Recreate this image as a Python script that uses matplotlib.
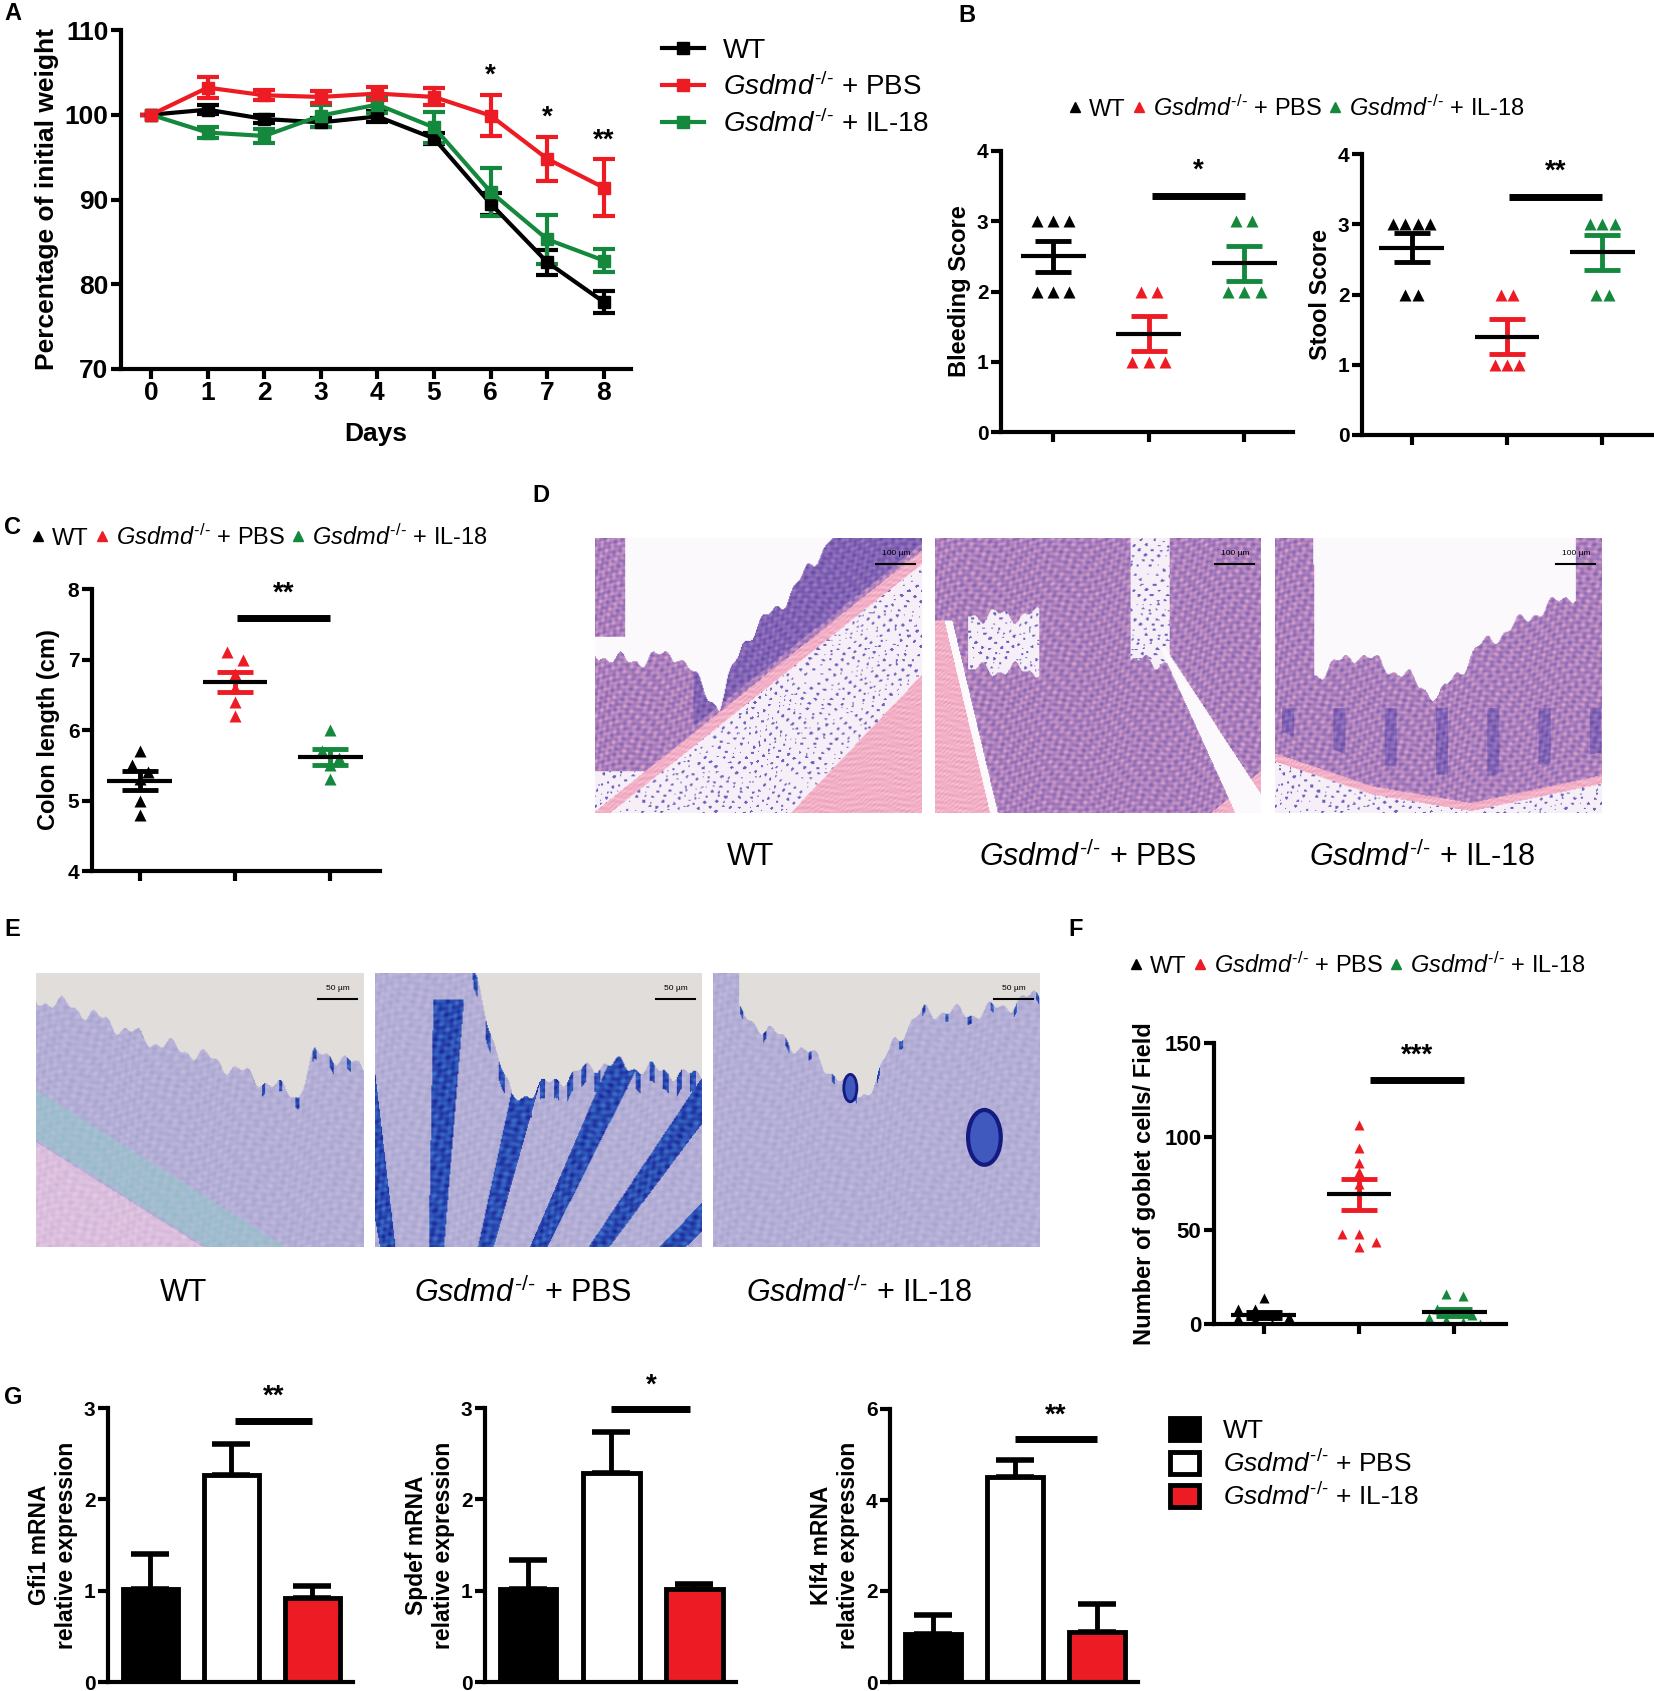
import numpy as np
import matplotlib
matplotlib.use('Agg')
import matplotlib.pyplot as plt
from matplotlib.lines import Line2D
from matplotlib.patches import Patch, Ellipse

plt.rcParams['font.family'] = ['Liberation Sans', 'DejaVu Sans']
plt.rcParams['mathtext.fontset'] = 'custom'
plt.rcParams['mathtext.rm'] = 'Liberation Sans'
plt.rcParams['mathtext.it'] = 'Liberation Sans:italic'
plt.rcParams['mathtext.bf'] = 'Liberation Sans:bold'

RED = '#ed1c24'
GREEN = '#14893d'
BLACK = '#000000'

# ---- data ----
days = [0, 1, 2, 3, 4, 5, 6, 7, 8]
wt_weight = [100, 100.6, 99.5, 99.1, 99.8, 97.2, 89.5, 82.6, 77.9]
wt_weight_err = [0, 0.5, 0.5, 0.5, 0.6, 0.6, 1.3, 1.5, 1.3]
pbs_weight = [100, 103.2, 102.3, 102.1, 102.5, 102.1, 99.9, 94.8, 91.4]
pbs_weight_err = [0, 1.2, 0.6, 0.7, 0.8, 1.0, 2.4, 2.6, 3.4]
il18_weight = [100, 97.9, 97.5, 99.9, 101.2, 98.5, 90.9, 85.3, 82.8]
il18_weight_err = [0, 0.7, 0.8, 1.3, 1.0, 1.8, 2.8, 2.9, 1.4]
weight_stars = ['*', '*', '**']
weight_star_days = [6, 7, 8]
weight_star_y = [104.6, 99.7, 97.0]

bleed_wt = [3, 3, 3, 2, 2, 2]
bleed_pbs = [2, 2, 1, 1, 1]
bleed_il18 = [3, 3, 2, 2, 2]
stool_wt = [3, 3, 3, 3, 2, 2]
stool_pbs = [2, 2, 1, 1, 1]
stool_il18 = [3, 3, 3, 2, 2]

colon_wt = [5.7, 5.5, 5.4, 5.3, 5.0, 4.8]
colon_pbs = [7.1, 7.0, 6.8, 6.6, 6.4, 6.2]
colon_il18 = [6.0, 5.7, 5.6, 5.5, 5.3]

goblet_wt = [14, 8, 8, 5, 4, 3, 2, 0, 0]
goblet_pbs = [106, 94, 86, 81, 75, 48, 48, 44, 41]
goblet_il18 = [16, 15, 8, 6, 5, 3, 2, 1, 0]

gfi1 = [1.02, 2.27, 0.92]
gfi1_err = [0.38, 0.34, 0.13]
spdef = [1.02, 2.29, 1.02]
spdef_err = [0.32, 0.45, 0.05]
klf4 = [1.05, 4.5, 1.1]
klf4_err = [0.42, 0.38, 0.62]

group_names = ['WT', '$\\mathit{Gsdmd}^{\u2010/\u2010}$ + PBS', '$\\mathit{Gsdmd}^{\u2010/\u2010}$ + IL-18']
group_colors = [BLACK, RED, GREEN]

W, H = 1654, 1691
fig = plt.figure(figsize=(W / 100, H / 100), dpi=100)


def ax_at(x0, y0, x1, y1):
    return fig.add_axes([x0 / W, 1 - y1 / H, (x1 - x0) / W, (y1 - y0) / H])


def style(ax, size=15):
    for s in ['top', 'right']:
        ax.spines[s].set_visible(False)
    for s in ['left', 'bottom']:
        ax.spines[s].set_linewidth(3)
    ax.tick_params(width=3, length=7, labelsize=size, pad=2)
    for lab in ax.get_xticklabels() + ax.get_yticklabels():
        lab.set_fontweight('bold')


def swarm(vals, tol, step):
    vals = np.asarray(vals, dtype=float)
    offs = np.zeros(len(vals))
    groups = []
    for i in np.argsort(-vals, kind='stable'):
        if groups and abs(vals[groups[-1][0]] - vals[i]) < tol:
            groups[-1].append(i)
        else:
            groups.append([i])
    for g in groups:
        for k, i in enumerate(g):
            offs[i] = (k - (len(g) - 1) / 2) * step
    return offs


def dot_plot(ax, data, tol, step, ms=8.5):
    for i, (vals, c) in enumerate(zip(data, group_colors)):
        vals = np.asarray(vals, dtype=float)
        ax.plot(i + swarm(vals, tol, step), vals, '^', color=c, ms=ms, mec='none', zorder=2)
        m = vals.mean()
        s = vals.std(ddof=1) / np.sqrt(len(vals))
        ax.errorbar(i, m, yerr=s, color=c, elinewidth=3.5, capsize=13, capthick=3.5, zorder=3)
        ax.plot([i - 0.34, i + 0.34], [m, m], color='k', lw=3, zorder=4, solid_capstyle='butt')
    ax.set_xticks([0, 1, 2])
    ax.set_xticklabels([])


def sig(ax, x0, x1, y, ystar, txt, size=20):
    ax.plot([x0, x1], [y, y], color='k', lw=5, solid_capstyle='butt', clip_on=False)
    ax.text((x0 + x1) / 2, ystar, txt, ha='center', va='center', fontsize=size, fontweight='bold')


def tri_legend(x, y, size=17):
    handles = [Line2D([], [], ls='none', marker='^', color=c, ms=7) for c in group_colors]
    fig.legend(handles, group_names, loc='center', bbox_to_anchor=(x / W, 1 - y / H),
               ncol=3, frameon=False, fontsize=size, handlelength=0.5, handletextpad=0.35,
               columnspacing=0.3, borderaxespad=0, borderpad=0)


def letter(x, y, s):
    fig.text(x / W, 1 - y / H, s, fontsize=17, fontweight='bold', ha='left', va='center')


# ---- A: body weight ----
axA = ax_at(121, 30, 631, 369)
for vals, err, c in [(wt_weight, wt_weight_err, BLACK), (il18_weight, il18_weight_err, GREEN),
                     (pbs_weight, pbs_weight_err, RED)]:
    axA.errorbar(days, vals, yerr=err, color=c, lw=3, marker='s', ms=8.5, capsize=8,
                 capthick=3, elinewidth=3)
for d, yy, s in zip(weight_star_days, weight_star_y, weight_stars):
    axA.text(d, yy, s, ha='center', va='center', fontsize=20, fontweight='bold')
axA.set_xlim(-0.53, 8.48)
axA.set_ylim(70, 110)
axA.set_yticks([70, 80, 90, 100, 110])
axA.set_xticks(days)
style(axA, 19)
axA.set_xlabel('Days', fontsize=19, fontweight='bold', labelpad=12)
axA.set_ylabel('Percentage of initial weight', fontsize=19, fontweight='bold', labelpad=4)
handlesA = [Line2D([], [], color=c, marker='s', lw=3, ms=8.5) for c in group_colors]
fig.legend(handlesA, group_names, loc='upper left', bbox_to_anchor=(662 / W, 1 - 38 / H),
           frameon=False, fontsize=20, handlelength=1.5, labelspacing=0.3,
           handletextpad=0.7, borderaxespad=0, borderpad=0)
letter(4, 14, 'A')

# ---- B: bleeding / stool ----
letter(958, 15, 'B')
tri_legend(1297, 108)
axB1 = ax_at(1001, 151, 1293, 432)
dot_plot(axB1, [bleed_wt, bleed_pbs, bleed_il18], 0.1, 0.17)
sig(axB1, 1.03, 2.01, 3.36, 3.72, '*')
axB1.set_xlim(-0.545, 2.51)
axB1.set_ylim(0, 4)
axB1.set_yticks([0, 1, 2, 3, 4])
style(axB1, 15)
axB1.set_ylabel('Bleeding Score', fontsize=17, fontweight='bold', labelpad=4)

axB2 = ax_at(1362, 154, 1652, 435)
dot_plot(axB2, [stool_wt, stool_pbs, stool_il18], 0.1, 0.13)
sig(axB2, 1.02, 2.0, 3.39, 3.75, '**')
axB2.set_xlim(-0.52, 2.52)
axB2.set_ylim(0, 4)
axB2.set_yticks([0, 1, 2, 3, 4])
style(axB2, 15)
axB2.set_ylabel('Stool Score', fontsize=17, fontweight='bold', labelpad=4)

# ---- C: colon length ----
letter(4, 528, 'C')
tri_legend(260, 537)
axC = ax_at(92, 589, 380, 871)
dot_plot(axC, [colon_wt, colon_pbs, colon_il18], 0.15, 0.17)
sig(axC, 1.02, 2.0, 7.59, 7.94, '**')
axC.set_xlim(-0.5, 2.52)
axC.set_ylim(4, 8)
axC.set_yticks([4, 5, 6, 7, 8])
style(axC, 15)
axC.set_ylabel('Colon length (cm)', fontsize=17, fontweight='bold', labelpad=6)

# ---- F: goblet cells ----
letter(1068, 929, 'F')
tri_legend(1358, 965)
axF = ax_at(1214, 1043, 1506, 1324)
dot_plot(axF, [goblet_wt, goblet_pbs, goblet_il18], 4.5, 0.18, ms=7.5)
sig(axF, 1.12, 2.1, 130.4, 143, '***')
axF.set_xlim(-0.52, 2.54)
axF.set_ylim(0, 150)
axF.set_yticks([0, 50, 100, 150])
style(axF, 16)
axF.set_ylabel('Number of goblet cells/ Field', fontsize=17, fontweight='bold', labelpad=6)

# ---- G: qPCR bars ----
letter(4, 1398, 'G')
bar_colors = [BLACK, 'white', RED]
for rect, vals, err, lab, ymax, yt, sg in [
        ((108, 1408, 353, 1682), gfi1, gfi1_err, 'Gfi1 mRNA\nrelative expression', 3, [0, 1, 2, 3],
         (1.04, 2.0, 2.86, 3.12, '**')),
        ((485, 1408, 736, 1682), spdef, spdef_err, 'Spdef mRNA\nrelative expression', 3, [0, 1, 2, 3],
         (1.0, 1.95, 2.99, 3.25, '*')),
        ((890, 1409, 1138, 1682), klf4, klf4_err, 'Klf4 mRNA\nrelative expression', 6, [0, 2, 4, 6],
         (1.0, 2.0, 5.33, 5.85, '**'))]:
    ax = ax_at(*rect)
    x = np.arange(3)
    ax.errorbar(x, vals, yerr=[np.zeros(3), err], fmt='none', ecolor='k', elinewidth=3.5,
                capsize=14, capthick=4, zorder=1)
    ax.bar(x, vals, width=0.68, color=bar_colors, edgecolor='k', linewidth=3.5, zorder=2)
    sig(ax, *sg)
    ax.set_xlim(-0.52, 2.5)
    ax.set_ylim(0, ymax)
    ax.set_yticks(yt)
    ax.set_xticks([])
    style(ax, 15)
    ax.set_ylabel(lab, fontsize=16.5, fontweight='bold', labelpad=4, linespacing=1.25)

handlesG = [Patch(facecolor=c, edgecolor='k', linewidth=3.5) for c in bar_colors]
fig.legend(handlesG, group_names, loc='upper left', bbox_to_anchor=(1170 / W, 1 - 1418 / H),
           frameon=False, fontsize=19, handlelength=1.1, handleheight=0.9, labelspacing=0.25,
           handletextpad=0.9, borderaxespad=0, borderpad=0)

# ---- histology pictures (D: H&E, E: Alcian blue/PAS) ----
IMG_H, IMG_W = 270, 325
uu, vv = np.meshgrid(np.linspace(0, 1, IMG_W), np.linspace(0, 1, IMG_H))
wig = 0.02 * np.sin(uu * 57) + 0.012 * np.sin(uu * 131 + 1.0)


def grain(a, b):
    g = (0.5 + 0.25 * np.sin(uu * a + 2 * np.sin(vv * 37)) * np.sin(vv * b + 2 * np.cos(uu * 29))
         + 0.25 * np.sin((uu + vv) * b * 1.3 + np.sin(uu * 23) * 3) * np.sin((uu - vv) * a * 0.9))
    return np.clip(g, 0, 1)[..., None]


def mix(c1, c2, t):
    return np.array(c1) * (1 - t) + np.array(c2) * t


def he_picture(lumen, muscle, loose, dense):
    g = grain(170, 150)
    img = mix((0.50, 0.38, 0.70), (0.90, 0.66, 0.80), g ** 1.2)
    dark = mix((0.38, 0.28, 0.64), (0.64, 0.50, 0.78), g)
    img = np.where(dense[..., None], dark, img)
    sub = mix((0.97, 0.94, 0.97), (0.42, 0.38, 0.74), (g > 0.74) * 1.0)
    img = np.where(loose[..., None], sub, img)
    mus = mix((0.92, 0.58, 0.70), (0.98, 0.80, 0.86), grain(40, 300))
    img = np.where(muscle[..., None], mus, img)
    img = np.where(lumen[..., None], np.array([0.99, 0.98, 0.99]), img)
    return img


def ab_picture(bg, blue, pinkish, teal):
    g = grain(140, 120)
    img = mix((0.64, 0.64, 0.81), (0.77, 0.73, 0.87), g)
    img = np.where(teal[..., None], mix((0.58, 0.73, 0.77), (0.68, 0.75, 0.85), g), img)
    img = np.where(pinkish[..., None], mix((0.82, 0.70, 0.84), (0.90, 0.80, 0.90), g), img)
    img = np.where(blue[..., None], mix((0.10, 0.12, 0.58), (0.24, 0.48, 0.82), g), img)
    img = np.where(bg[..., None], np.array([0.88, 0.87, 0.86]), img)
    return img


none = np.zeros_like(uu, dtype=bool)

b1 = 1.02 - 0.95 * uu
d_wt = he_picture(
    (vv < np.interp(uu, [0, 0.1, 0.25, 0.38, 0.45, 0.6, 0.72, 1],
                    [0.42, 0.45, 0.42, 0.62, 0.38, 0.2, 0.0, -0.1]) + wig)
    & ~((uu < 0.09) & (vv < 0.36)),
    (np.abs(vv - b1) < 0.025) | (vv > 1.75 - 1.25 * uu),
    (vv > b1) | ((uu < 0.15) & (vv > 0.85)),
    (vv < b1 - 0.05) & (vv > b1 - 0.4) & (uu > 0.3))
d_pbs = he_picture(
    ((np.abs(uu - (0.70 + 0.28 * (vv - 0.4) / 0.6)) < 0.05 * (vv - 0.4) / 0.6 + 0.008) & (vv > 0.4))
    | ((np.abs(uu - (0.04 + 0.14 * (vv - 0.3) / 0.7)) < 0.012) & (vv > 0.3)),
    ((uu < 0.03 + 0.14 * np.clip((vv - 0.3) / 0.7, 0, 1)) & (vv > 0.3)) | (vv > 1.85 - uu),
    ((uu > 0.1) & (uu < 0.32) & (vv > 0.28 + wig) & (vv < 0.48 - wig))
    | ((uu > 0.6) & (uu < 0.72) & (vv < 0.45 + wig)),
    none)
il_edge = np.interp(uu, [0, 0.3, 0.6, 1], [0.8, 0.92, 0.98, 0.88])
d_il = he_picture(
    vv < np.interp(uu, [0, 0.11, 0.12, 0.25, 0.4, 0.5, 0.62, 0.8, 0.92, 0.93, 1],
                   [-1, -1, 0.5, 0.42, 0.5, 0.58, 0.4, 0.27, 0.2, -1, -1]) + wig,
    np.abs(vv - il_edge) < 0.015,
    vv > il_edge,
    (vv > 0.62) & (vv < il_edge - 0.1) & (np.sin(uu * 40) > 0.75))

e_wt_edge = np.interp(uu, [0, 0.1, 0.35, 0.5, 0.8, 0.85, 0.9, 1],
                      [0.1, 0.12, 0.25, 0.3, 0.45, 0.3, 0.3, 0.35]) + wig
e_wt = ab_picture(vv < e_wt_edge,
                  (vv > e_wt_edge) & (vv < e_wt_edge + 0.04) & (np.sin(uu * 120) > 0.8) & (uu > 0.65),
                  vv > 0.62 + 0.75 * uu,
                  np.abs(vv - (0.52 + 0.75 * uu)) < 0.09)
e_pbs_edge = np.interp(uu, [0, 0.28, 0.3, 0.42, 0.5, 0.7, 1],
                       [-1, -1, 0.0, 0.47, 0.42, 0.33, 0.38]) + wig
fan = np.arctan2(uu - 0.15, 1.9 - vv)
e_pbs = ab_picture(vv < e_pbs_edge,
                   ((np.sin(fan * 38) > 0.55) & (vv > 0.1))
                   | ((vv > e_pbs_edge) & (vv < e_pbs_edge + 0.07) & (np.sin(uu * 150) > 0.3)),
                   none, none)
e_il_edge = np.interp(uu, [0, 0.06, 0.08, 0.15, 0.3, 0.45, 0.5, 0.55, 0.65, 0.8, 0.9, 1],
                      [-1, -1, 0.15, 0.2, 0.3, 0.45, 0.4, 0.25, 0.14, 0.15, 0.12, 0.08]) + wig
e_il = ab_picture(vv < e_il_edge,
                  (vv > e_il_edge) & (vv < e_il_edge + 0.03) & (np.sin(uu * 90) > 0.9),
                  none, none)


def picture(rect, img, bar_text):
    ax = ax_at(*rect)
    ax.imshow(img, aspect='auto', interpolation='bilinear')
    ax.set_axis_off()
    ax.plot([0.86, 0.98], [0.905, 0.905], color='k', lw=1.5, transform=ax.transAxes)
    ax.text(0.92, 0.945, bar_text, fontsize=6, ha='center', va='center', transform=ax.transAxes)
    return ax


letter(532, 496, 'D')
picture((595, 538, 922, 813), d_wt, '100 µm')
picture((935, 538, 1261, 813), d_pbs, '100 µm')
picture((1275, 538, 1602, 813), d_il, '100 µm')
for xc, s in zip([751, 1088, 1422], group_names):
    fig.text(xc / W, 1 - 857 / H, s, fontsize=22, ha='center', va='center')

letter(4, 929, 'E')
picture((36, 973, 364, 1247), e_wt, '50 µm')
picture((375, 973, 702, 1247), e_pbs, '50 µm')
axEil = picture((713, 973, 1040, 1247), e_il, '50 µm')
axEil.add_patch(Ellipse((0.83, 0.40), 0.1, 0.2, transform=axEil.transAxes,
                        facecolor=(0.25, 0.35, 0.75), edgecolor=(0.08, 0.1, 0.5), lw=3))
axEil.add_patch(Ellipse((0.42, 0.58), 0.04, 0.1, transform=axEil.transAxes,
                        facecolor=(0.25, 0.35, 0.75), edgecolor=(0.08, 0.1, 0.5), lw=2))
for xc, s in zip([184, 523, 859], group_names):
    fig.text(xc / W, 1 - 1293 / H, s, fontsize=22, ha='center', va='center')

fig.savefig('out.png', dpi=100)
